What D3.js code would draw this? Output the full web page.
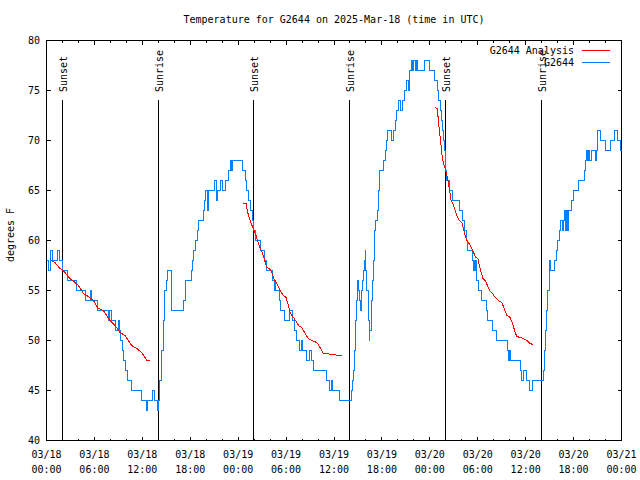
<!DOCTYPE html>
<html>
<head>
<meta charset="utf-8">
<script src="https://cdn.jsdelivr.net/npm/d3@7"></script>
<style>
  html, body { margin: 0; padding: 0; background: #fff; }
  svg text { font-family: "DejaVu Sans Mono", monospace; font-size: 10px; fill: #000; }
</style>
</head>
<body>
<svg id="chart" width="640" height="480"></svg>
<script>
// ---------- DATA (hours since 2025-03-18 00:00 UTC) ----------
const chartTitle = "Temperature for G2644 on 2025-Mar-18 (time in UTC)";
const yLabel = "degrees F";
const yTicks = [40, 45, 50, 55, 60, 65, 70, 75, 80];

const sunsetHours = [1.98, 25.95, 49.95];
const sunriseHours = [14.0, 37.95, 61.98];

const obsHours = [0.00,0.31,0.45,0.56,0.73,1.40,1.57,1.98,2.60,3.70,4.90,5.45,5.60,6.37,7.75,7.95,8.10,8.70,9.00,9.10,9.30,9.50,9.70,9.90,10.20,10.60,11.90,12.50,12.65,13.30,13.50,13.85,14.05,14.20,14.40,14.60,14.80,15.00,15.20,15.60,17.20,17.35,17.45,18.10,18.30,18.45,18.60,18.85,19.05,19.70,19.78,19.85,20.10,20.25,21.05,21.25,21.45,21.75,22.00,22.45,22.85,23.00,23.15,23.35,24.60,24.90,25.10,25.35,25.50,25.75,25.95,26.20,26.80,27.30,27.55,28.30,28.50,28.60,28.70,29.15,29.30,29.75,30.45,30.80,31.10,31.30,31.70,31.90,32.05,32.55,32.95,33.15,33.40,35.00,35.45,35.65,35.80,36.75,38.20,38.35,38.45,38.55,38.70,38.85,38.95,39.10,39.20,39.35,39.45,39.60,39.70,39.80,39.90,40.00,40.10,40.30,40.40,40.50,40.65,40.75,40.85,40.95,41.05,41.25,41.40,41.60,41.75,42.15,42.40,42.60,42.75,43.20,43.45,43.65,43.85,44.05,44.30,44.60,44.80,45.05,45.30,45.50,45.65,45.80,45.95,46.15,46.35,46.50,47.30,48.00,48.55,48.90,49.10,49.30,49.45,49.55,49.65,49.78,49.90,50.00,50.13,50.46,50.83,51.70,52.10,52.35,52.55,52.76,53.40,53.50,53.60,53.68,53.80,53.89,54.09,54.50,55.14,55.27,55.89,56.31,57.73,57.85,57.97,58.10,59.40,59.53,59.73,60.15,60.44,60.86,62.23,62.36,62.53,62.66,62.78,62.95,62.99,63.16,63.61,63.91,64.03,64.20,64.32,64.57,64.74,64.86,64.99,65.16,65.28,65.41,65.79,65.99,66.62,67.37,67.46,67.67,67.79,67.87,68.00,68.21,68.71,68.83,69.00,69.37,70.00,70.62,71.12,71.54,71.91,72.00];
const obsTemps = [58,57,58,59,58,59,58,57,56,55,54,55,54,53,52,53,52,51,52,51,50,49,48,47,46,45,44,43,44,45,44,43,44,46,49,52,55,56,57,53,54,55,56,57,58,59,60,61,62,63,64,65,63,65,66,64,65,66,65,66,67,68,67,68,67,66,65,64,63,62,61,60,59,58,57,56,55,56,55,54,53,52,53,52,51,50,49,50,49,48,49,48,47,46,45,46,45,44,45,46,47,49,52,54,56,55,54,53,55,56,57,58,59,57,55,52,50,51,52,54,56,58,61,62,63,65,67,68,69,70,71,70,71,72,73,74,73,74,75,76,75,77,78,77,78,77,78,77,78,77,76,75,74,73,72,71,70,69,68,67,66,65,64,63,62,61,60,59,58,57,58,57,58,56,55,54,53,52,51,50,49,48,49,48,47,46,47,46,45,46,47,49,51,53,55,57,58,57,58,59,60,61,62,61,62,63,61,63,61,63,64,65,66,67,68,69,68,69,68,69,68,69,71,70,69,70,71,70,69,69];

// analysis series, null separates segments
const analysisHours = [0.6,1.06,1.69,2.1,2.94,3.57,3.99,4.4,4.6,5.03,5.87,6.49,7.12,7.54,7.95,8.58,9.2,9.83,10.25,10.67,11.3,11.92,12.34,12.55,12.97, null,
  24.65,25.0,25.07,25.2,25.41,25.62,25.91,26.24,26.53,26.95,27.25,27.58,28.0,28.21,28.41,28.83,29.25,29.66,30.0,30.29,30.5,30.92,31.34,31.67,31.97,32.38,32.8,33.22,33.85,34.26,34.67,35.1,36.14,36.35,36.98, null,
  48.67,48.95,49.08,49.2,49.38,49.5,49.63,49.71,49.92,50.13,50.34,50.54,50.67,50.88,51.09,51.38,51.67,52.0,52.21,52.42,52.63,52.84,53.18,53.47,53.76,54.01,54.3,54.64,54.93,55.22,55.47,55.77,56.18,56.6,57.02,57.31,57.65,58.06,58.35,58.69,58.9,59.31,59.73,60.15,60.57,60.9];
const analysisTemps = [58,57.8,57.2,57,56.2,55.8,55.5,55,54.7,54.5,54,53.2,53,52.5,52,51.5,50.8,50.5,50,49.5,49.2,48.8,48.3,48,48, null,
  63.75,63.7,63.3,62.8,62.2,61.7,61.2,60.5,59.7,58.9,58.2,57.33,57.1,56.8,56.3,55.7,55,54.5,54.3,53.5,52.8,52.3,51.8,51.4,51.3,50.7,50.2,50,49.8,49.3,48.7,48.67,48.6,48.5,48.5, null,
  73.3,73.2,71.8,71,69.7,68.7,68,67.7,67.2,66.5,65.7,64.7,64,63.7,63.2,62.5,62,61.8,61.2,60.5,60,59.8,59.3,58.8,58.3,58.2,57.2,56.2,56,55.5,55,54.8,54.3,54,53.8,53.2,52.5,52.3,51.7,50.8,50.4,50.3,50.2,50,49.7,49.6];

const legendNames = ["G2644 Analysis", "G2644"];
const seriesColors = ["#ff0000", "#0080ff"];

// ---------- DRAW ----------
const startMs = Date.UTC(2025, 2, 18);
const toDate = h => new Date(startMs + h * 3600e3);

const svg = d3.select("#chart");
svg.append("rect").attr("width", 640).attr("height", 480).attr("fill", "#fff");

const L = 46.5, R = 621.5, T = 40.5, B = 440.5;
const x = d3.scaleUtc().domain([toDate(0), toDate(72)]).range([L, R]);
const y = d3.scaleLinear().domain([40, 80]).range([B, T]);

// title
svg.append("text").attr("x", (L + R) / 2).attr("y", 23).attr("text-anchor", "middle").text(chartTitle);

// y label
svg.append("text").attr("transform", "translate(14,235) rotate(-90)").attr("text-anchor", "middle").text(yLabel);

// ticks
const g = svg.append("g").attr("shape-rendering", "crispEdges");
const majorX = d3.utcHour.every(6).range(toDate(0), toDate(72.01));
const minorX = d3.utcHour.every(2).range(toDate(0), toDate(72.01));
minorX.forEach(d => {
  const isMajor = d.getUTCHours() % 6 === 0;
  const len = isMajor ? 4 : 2;
  const px = Math.round(x(d) - 0.5) + 0.5;
  g.append("line").attr("x1", px).attr("x2", px).attr("y1", B).attr("y2", B - len).attr("stroke", "#000");
  g.append("line").attr("x1", px).attr("x2", px).attr("y1", T).attr("y2", T + len).attr("stroke", "#000");
});
const fmtD = d3.utcFormat("%m/%d"), fmtT = d3.utcFormat("%H:%M");
majorX.forEach(d => {
  const px = x(d);
  svg.append("text").attr("x", px).attr("y", 458).attr("text-anchor", "middle").text(fmtD(d));
  svg.append("text").attr("x", px).attr("y", 473).attr("text-anchor", "middle").text(fmtT(d));
});
yTicks.forEach(v => {
  const py = Math.round(y(v) - 0.5) + 0.5;
  g.append("line").attr("x1", L).attr("x2", L + 4).attr("y1", py).attr("y2", py).attr("stroke", "#000");
  g.append("line").attr("x1", R).attr("x2", R - 4).attr("y1", py).attr("y2", py).attr("stroke", "#000");
  svg.append("text").attr("x", 40).attr("y", y(v) + 3.5).attr("text-anchor", "end").text(v);
});

// sun event lines
const sunEvents = sunsetHours.map(h => ({h, label: "Sunset"}))
  .concat(sunriseHours.map(h => ({h, label: "Sunrise"})));
sunEvents.forEach(e => {
  const px = Math.round(x(toDate(e.h)) - 0.5) + 0.5;
  g.append("line").attr("x1", px).attr("x2", px).attr("y1", y(74.05)).attr("y2", B).attr("stroke", "#000");
  svg.append("text").attr("transform", `translate(${px + 4.5},92) rotate(-90)`).attr("text-anchor", "start").text(e.label);
});

// series
const obs = obsHours.map((h, i) => ({d: toDate(h), v: obsTemps[i]}));
const ana = analysisHours.map((h, i) => ({d: h === null ? null : toDate(h), v: analysisTemps[i]}));

const stepLine = d3.line().x(p => x(p.d)).y(p => y(p.v)).curve(d3.curveStepAfter);
const anaLine = d3.line().defined(p => p.d !== null && p.v !== null).x(p => x(p.d)).y(p => y(p.v));

svg.append("path").datum(obs).attr("d", stepLine).attr("fill", "none")
  .attr("stroke", seriesColors[1]).attr("stroke-width", 1).attr("shape-rendering", "crispEdges");
svg.append("path").datum(ana).attr("d", anaLine).attr("fill", "none")
  .attr("stroke", seriesColors[0]).attr("stroke-width", 1).attr("shape-rendering", "crispEdges");

// border
g.append("rect").attr("x", L).attr("y", T).attr("width", R - L).attr("height", B - T)
  .attr("fill", "none").attr("stroke", "#000");

// legend
legendNames.forEach((name, i) => {
  const ly = 50.5 + i * 12;
  svg.append("text").attr("x", 574).attr("y", ly + 3.5).attr("text-anchor", "end").text(name);
  g.append("line").attr("x1", 582).attr("x2", 610).attr("y1", ly).attr("y2", ly).attr("stroke", seriesColors[i]);
});
</script>
</body>
</html>
